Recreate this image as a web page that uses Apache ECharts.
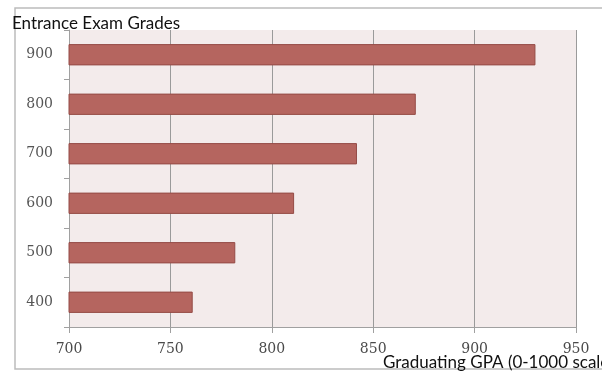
<!DOCTYPE html>
<html><head><meta charset="utf-8">
<script src="https://cdn.jsdelivr.net/npm/echarts@6/dist/echarts.min.js"></script>
<style>html,body{margin:0;padding:0;background:#fff}#c{width:602px;height:373px}</style>
</head><body><div id="c"></div>
<script>
const categories = ['400', '500', '600', '700', '800', '900'];
const gpaValues = [761, 782, 811, 842, 871, 930];
const xTicks = { min: 700, max: 950, interval: 50 };
const yTitle = 'Entrance Exam Grades';
const xTitle = 'Graduating GPA (0-1000 scale)';

const chart = echarts.init(document.getElementById('c'), null, { renderer: 'canvas' });
chart.setOption({
  animation: false,
  backgroundColor: '#fff',
  grid: { left: 69, right: 26, top: 30, bottom: 46, show: true, backgroundColor: '#f3ebeb', borderWidth: 0 },
  xAxis: {
    type: 'value', min: xTicks.min, max: xTicks.max, interval: xTicks.interval,
    axisLine: { show: true, lineStyle: { color: '#a0a0a0', width: 1 } },
    axisTick: { show: true, length: 6, lineStyle: { color: '#a0a0a0' } },
    splitLine: { show: true, lineStyle: { color: '#9a9a9a', width: 1 } },
    axisLabel: { color: '#4a4a4a', fontFamily: 'DejaVu Serif', fontSize: 14, margin: 15 }
  },
  yAxis: {
    type: 'category', data: categories,
    axisLine: { show: true, lineStyle: { color: '#a0a0a0', width: 1 } },
    axisTick: { show: true, length: 5, lineStyle: { color: '#a0a0a0' } },
    axisLabel: { color: '#555', fontFamily: 'DejaVu Serif', fontSize: 14, margin: 16 }
  },
  series: [{
    type: 'bar', data: gpaValues, barCategoryGap: '57%',
    itemStyle: { color: '#b5655f', borderColor: '#944b46', borderWidth: 1 }
  }],
  graphic: [
    { type: 'rect', shape: { x: 15, y: 8, width: 600, height: 361 }, style: { fill: 'none', stroke: '#bcbcbc', lineWidth: 1.5 }, z: -1 },
    { type: 'text', left: 12, top: 15, style: { text: yTitle, fill: '#111', font: '17px Lato' }, z: 10 },
    { type: 'text', left: 383, top: 354, style: { text: xTitle, fill: '#111', font: '17px Lato' }, z: 10 }
  ]
});
</script></body></html>
